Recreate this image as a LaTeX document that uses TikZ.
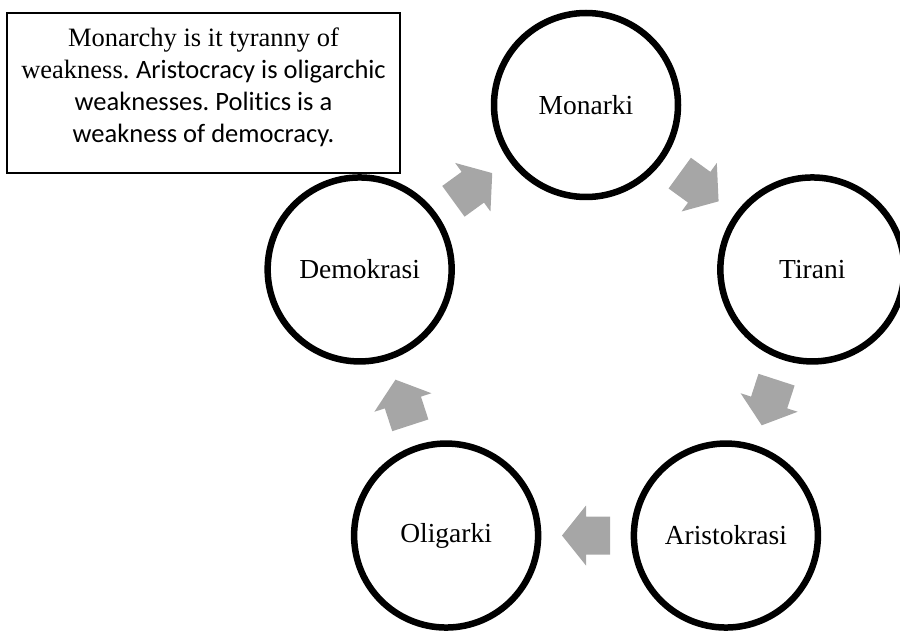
\documentclass[tikz,border=0pt]{standalone}
\usepackage{fontspec}
\usetikzlibrary{calc,positioning}
\setmainfont{Liberation Serif}
\newfontfamily\noteserif{Liberation Serif}
\newfontfamily\notesans[Ligatures=NoCommon]{Carlito}
\definecolor{cyclegray}{RGB}{166,166,166}
\frenchspacing

\begin{document}
\begin{tikzpicture}[x=1pt,y=1pt,
  stage/.style={circle,draw=black,line width=6.5pt,fill=white,minimum size=184pt,inner sep=0pt,font=\fontsize{27.5}{30}\selectfont},
  cyclearrow/.style={fill=cyclegray,draw=none},
  notebox/.style={draw=black,line width=1.6pt,fill=white,minimum width=393pt,minimum height=160pt,inner sep=0pt,font=\fontsize{26.5}{32}\selectfont}]

\useasboundingbox (0,0) rectangle (900,630);
\coordinate (c) at (586,287);

\def\stages{1/90/Monarki,2/18/Tirani,3/-54/Aristokrasi,4/-126/Oligarki,5/162/Demokrasi}
\foreach \i / \ang / \name in \stages
  \node [stage] (s\i) at ($(c)+(\ang:238)$) {\name};

\def\steps{1/2/90,2/3/18,3/4/-54,4/5/-126,5/1/162}
\foreach \i / \j / \ang in \steps {
  \coordinate (a\i) at ($(s\i)!0.5!(s\j)$);
  \fill [cyclearrow,shift={(a\i)},rotate=\ang-126]
    (-24,-19) -- (0,-19) -- (0,-30) -- (24,0) -- (0,30) -- (0,19) -- (-24,19) -- cycle;
}

\node [notebox] (note) at (203.5,537) {\raisebox{6pt}[\height][\depth]{\parbox{393pt}{\centering
  {\noteserif Monarchy is it tyranny of}\\
  {\noteserif weakness.} {\notesans Aristocracy is oligarchic}\\
  {\notesans weaknesses. Politics is a}\\
  {\notesans weakness of democracy.}}}};

\end{tikzpicture}
\end{document}
